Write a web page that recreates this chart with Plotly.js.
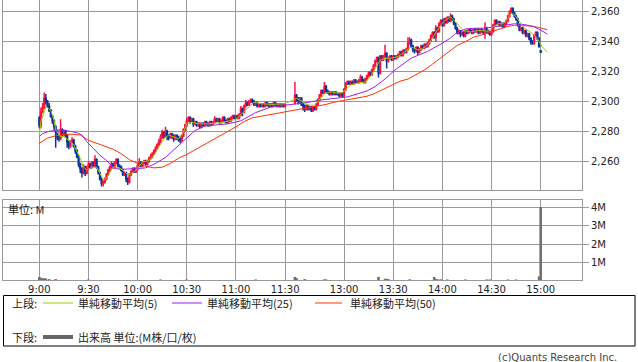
<!DOCTYPE html>
<html><head><meta charset="utf-8">
<script src="https://cdn.plot.ly/plotly-3.0.1.min.js"></script>
<style>html,body{margin:0;padding:0;background:#fff;}#chart{width:638px;height:362px;}</style>
</head><body><div id="chart"></div>
<script>
// ---- time axis (minute slots; afternoon session 12:30 starts at slot 156) ----
const amMinutes = 151;          // 9:00 .. 11:30
const pmStartSlot = 156;        // 12:30
const pmMinutes = 151;          // 12:30 .. 15:00
const tickSlots  = [0,30,60,90,120,150,186,216,246,276,306];
const tickLabels = ['9:00','9:30','10:00','10:30','11:00','11:30','13:00','13:30','14:00','14:30','15:00'];
const priceTicks = [2260,2280,2300,2320,2340,2360];
const volTicks = [1,2,3,4];
const volTickLabels = ['1M','2M','3M','4M'];

// ---- 1-minute candles ----
const openP = [
2289,2284,2293,2296,2302,2300,2297,2294,2290,2287,
2283,2280,2276,2275,2281,2278,2280,2277,2273,2270,
2273,2274,2270,2267,2263,2258,2255,2252,2256,2252,
2255,2258,2256,2259,2257,2261,2256,2252,2248,2245,
2246,2248,2251,2254,2256,2258,2256,2259,2261,2257,
2256,2254,2251,2252,2248,2246,2251,2253,2255,2253,
2255,2257,2259,2257,2259,2260,2258,2260,2262,2263,
2265,2267,2269,2271,2273,2276,2279,2277,2280,2277,
2276,2278,2277,2275,2277,2276,2275,2274,2277,2281,
2284,2287,2289,2287,2288,2285,2286,2284,2285,2283,
2285,2284,2286,2285,2284,2286,2285,2286,2288,2287,
2288,2286,2287,2289,2287,2286,2288,2287,2289,2290,
2289,2290,2289,2291,2295,2293,2297,2299,2298,2300,
2301,2300,2298,2299,2297,2298,2297,2298,2297,2299,
2298,2297,2298,2297,2299,2298,2297,2298,2297,2298,
2297,
2299,2304,2302,2300,2302,2298,2297,2295,2297,2295,
2296,2294,2296,2295,2298,2301,2304,2307,2306,2310,
2307,2306,2305,2306,2305,2306,2305,2305,2304,2305,
2304,2308,2312,2313,2312,2313,2312,2314,2313,2313,
2314,2316,2314,2313,2315,2317,2319,2318,2321,2324,
2327,2329,2319,2330,2328,2330,2332,2327,2329,2330,
2328,2330,2329,2330,2331,2333,2331,2334,2333,2335,
2339,2341,2337,2335,2334,2336,2333,2335,2337,2336,
2338,2337,2339,2341,2344,2346,2343,2349,2347,2352,
2354,2351,2355,2353,2356,2354,2357,2355,2352,2349,
2346,2347,2345,2346,2344,2347,2346,2348,2347,2346,
2348,2347,2348,2346,2348,2347,2346,2349,2347,2346,
2345,2347,2351,2354,2352,2353,2351,2352,2350,2352,
2354,2357,2360,2362,2359,2357,2355,2351,2348,2349,
2346,2347,2344,2345,2342,2340,2339,2344,2346,2342,
2334];
const highP = [
2290,2296,2299,2306,2305,2301,2299,2295,2291,2288,
2284,2281,2277,2288,2282,2281,2281,2278,2274,2274,
2276,2275,2271,2268,2264,2259,2256,2258,2257,2257,
2260,2259,2260,2260,2264,2262,2257,2253,2249,2247,
2249,2252,2255,2257,2260,2259,2260,2262,2262,2258,
2257,2255,2253,2253,2249,2252,2254,2256,2256,2256,
2259,2262,2260,2260,2261,2261,2261,2263,2265,2266,
2268,2270,2272,2275,2278,2281,2280,2283,2281,2278,
2279,2279,2278,2278,2278,2277,2276,2278,2282,2285,
2289,2290,2290,2289,2289,2287,2287,2286,2286,2286,
2286,2287,2287,2286,2287,2287,2287,2290,2289,2289,
2289,2288,2290,2290,2288,2289,2289,2290,2291,2291,
2291,2291,2292,2297,2296,2298,2301,2300,2301,2302,
2302,2301,2300,2300,2299,2299,2299,2299,2300,2300,
2299,2299,2299,2300,2300,2299,2299,2299,2299,2299,
2299,
2313,2305,2303,2303,2303,2299,2298,2298,2298,2297,
2297,2297,2297,2299,2302,2305,2308,2308,2313,2311,
2308,2307,2307,2307,2307,2307,2306,2306,2306,2306,
2309,2313,2314,2314,2314,2314,2315,2315,2314,2315,
2318,2317,2315,2316,2318,2320,2320,2322,2325,2328,
2330,2330,2331,2331,2331,2338,2333,2330,2331,2331,
2331,2331,2331,2332,2334,2334,2335,2335,2336,2343,
2343,2342,2338,2336,2337,2337,2336,2338,2338,2339,
2339,2340,2342,2345,2347,2347,2351,2350,2353,2355,
2355,2356,2356,2357,2357,2359,2358,2356,2353,2350,
2348,2348,2347,2347,2348,2348,2349,2349,2348,2349,
2349,2349,2349,2349,2349,2348,2353,2350,2348,2347,
2348,2352,2355,2355,2354,2354,2353,2353,2353,2355,
2358,2361,2363,2363,2360,2358,2356,2352,2350,2350,
2348,2348,2346,2346,2343,2341,2345,2347,2347,2343,
2334];
const lowP = [
2282,2282,2292,2295,2298,2296,2293,2289,2285,2281,
2269,2274,2273,2274,2276,2277,2276,2269,2268,2269,
2272,2269,2265,2262,2256,2252,2249,2251,2250,2251,
2254,2255,2255,2256,2256,2255,2251,2247,2243,2243,
2245,2247,2250,2253,2255,2255,2255,2258,2256,2255,
2253,2250,2250,2246,2244,2245,2250,2252,2252,2252,
2254,2256,2256,2256,2258,2257,2257,2259,2261,2262,
2264,2266,2268,2270,2272,2275,2275,2276,2274,2274,
2275,2275,2273,2274,2274,2273,2272,2273,2276,2280,
2283,2286,2285,2286,2283,2284,2283,2283,2282,2282,
2283,2283,2284,2283,2283,2284,2284,2285,2286,2286,
2285,2285,2286,2286,2285,2285,2286,2286,2288,2288,
2288,2288,2288,2290,2290,2292,2296,2297,2297,2299,
2299,2297,2297,2296,2296,2296,2296,2296,2296,2297,
2296,2296,2296,2296,2297,2296,2296,2296,2296,2296,
2296,
2298,2300,2298,2299,2297,2294,2293,2294,2294,2294,
2293,2293,2294,2294,2297,2300,2303,2305,2305,2306,
2305,2304,2304,2304,2304,2304,2304,2303,2303,2303,
2303,2307,2311,2311,2311,2311,2311,2312,2312,2312,
2313,2313,2312,2312,2314,2316,2317,2317,2320,2323,
2326,2316,2318,2327,2327,2329,2322,2326,2328,2327,
2327,2328,2328,2329,2330,2330,2330,2332,2332,2334,
2338,2336,2333,2332,2333,2331,2332,2334,2335,2335,
2336,2336,2338,2340,2343,2342,2340,2346,2346,2351,
2350,2350,2352,2352,2353,2353,2354,2351,2348,2345,
2345,2343,2344,2343,2343,2345,2345,2346,2345,2345,
2346,2346,2345,2345,2346,2345,2342,2346,2345,2344,
2344,2346,2350,2351,2351,2350,2350,2349,2349,2351,
2353,2356,2359,2358,2356,2354,2350,2347,2347,2345,
2345,2343,2343,2341,2338,2338,2338,2343,2341,2336,
2333];
const closeP = [
2284,2293,2296,2302,2300,2297,2294,2290,2287,2283,
2280,2276,2275,2281,2278,2280,2277,2273,2270,2273,
2274,2270,2267,2263,2258,2255,2252,2256,2252,2255,
2258,2256,2259,2257,2261,2256,2252,2248,2245,2246,
2248,2251,2254,2256,2258,2256,2259,2261,2257,2256,
2254,2251,2252,2248,2246,2251,2253,2255,2253,2255,
2257,2259,2257,2259,2260,2258,2260,2262,2263,2265,
2267,2269,2271,2273,2276,2279,2277,2280,2277,2276,
2278,2277,2275,2277,2276,2275,2274,2277,2281,2284,
2287,2289,2287,2288,2285,2286,2284,2285,2283,2285,
2284,2286,2285,2284,2286,2285,2286,2288,2287,2288,
2286,2287,2289,2287,2286,2288,2287,2289,2290,2289,
2290,2289,2291,2295,2293,2297,2299,2298,2300,2301,
2300,2298,2299,2297,2298,2297,2298,2297,2299,2298,
2297,2298,2297,2299,2298,2297,2298,2297,2298,2297,
2298,
2304,2302,2300,2302,2298,2297,2295,2297,2295,2296,
2294,2296,2295,2298,2301,2304,2307,2306,2310,2307,
2306,2305,2306,2305,2306,2305,2305,2304,2305,2304,
2308,2312,2313,2312,2313,2312,2314,2313,2313,2314,
2316,2314,2313,2315,2317,2319,2318,2321,2324,2327,
2329,2319,2330,2328,2330,2332,2327,2329,2330,2328,
2330,2329,2330,2331,2333,2331,2334,2333,2335,2339,
2341,2337,2335,2334,2336,2333,2335,2337,2336,2338,
2337,2339,2341,2344,2346,2343,2349,2347,2352,2354,
2351,2355,2353,2356,2354,2357,2355,2352,2349,2346,
2347,2345,2346,2344,2347,2346,2348,2347,2346,2348,
2347,2348,2346,2348,2347,2346,2349,2347,2346,2345,
2347,2351,2354,2352,2353,2351,2352,2350,2352,2354,
2357,2360,2362,2359,2357,2355,2351,2348,2349,2346,
2347,2344,2345,2342,2340,2339,2344,2346,2342,2337,
2333];

// ---- moving averages ----
const ma5Slot = [0,1,3,4,7,9,10,13,15,17,19,21,23,25,27,29,32,35,37,39,41,43,45,48,51,54,56,59,63,67,70,73,76,79,82,85,88,90,93,97,103,112,120,124,131,135,142,150,157,159,164,168,171,174,178,182,185,190,193,199,202,205,208,211,215,219,223,227,231,234,237,240,243,246,248,249,251,252,256,259,263,268,274,277,280,283,286,288,290,293,296,299,302,304,307,310];
const ma5Val = [2277.5,2286.5,2293,2296.5,2294,2287.5,2281,2276.5,2276.5,2275,2273,2271,2267,2262,2256,2254,2256,2256,2252,2247.5,2248.5,2252.5,2256,2256,2254,2251,2251.5,2254,2259.5,2260.5,2264,2269.5,2275,2277.5,2276,2275,2279.5,2285,2286,2285,2285,2286,2288,2292,2299.5,2298.5,2298,2298.5,2302,2301,2297.5,2297.5,2301,2305,2306.5,2305.5,2306,2311,2312,2313,2316.5,2322,2327.5,2329,2329,2330,2333.5,2336.5,2334.5,2335.5,2338,2342.5,2348,2352.5,2354.5,2355,2356.5,2355.5,2351,2347.5,2346.5,2347.5,2347,2350,2352,2352,2355.5,2359,2358,2353.5,2349,2347,2344.5,2342,2336.5,2333];
const ma25Slot = [0,2,6,13,19,23,26,29,33,37,41,45,49,56,59,65,71,77,83,89,95,101,109,115,123,132,142,150,162,172,182,188,200,205,211,217,227,237,246,251,254,260,266,272,278,284,290,296,302,308,310];
const ma25Val = [2276.5,2278.5,2280,2281,2280,2279,2277.5,2273,2268.5,2264,2260.5,2256,2254.5,2254.5,2255,2255.5,2258.5,2262.5,2268.5,2275,2280.5,2283.5,2284.5,2285,2287,2292.5,2296.5,2297.5,2299,2301,2302.5,2303,2307,2310,2315,2321,2329,2333.5,2339,2342.5,2345.5,2348.5,2349,2349,2350,2351,2352,2351.5,2350,2346.5,2345];
const ma50Slot = [0,5,10,15,20,25,30,35,40,45,50,55,60,65,70,75,80,85,90,95,100,105,110,115,120,125,130,135,140,145,150,156,160,165,170,175,180,185,190,195,200,205,210,215,220,225,230,235,240,245,250,255,260,265,270,275,280,285,290,295,300,305,310];
const ma50Val = [2272,2275.5,2277,2278,2278,2277.5,2274,2272,2270,2268,2265,2261,2258.5,2256.5,2255.5,2256,2258.5,2262,2264.5,2267.5,2270.5,2274,2277,2280,2283,2286.5,2289,2290,2291,2292,2293,2294,2294.5,2295.5,2297,2298,2299.5,2300.5,2301.5,2302.5,2303.5,2305.5,2308,2310.5,2313.5,2315,2318,2321,2325,2329,2333,2337.5,2340,2343,2344.5,2346.5,2348,2350,2351,2351,2350.5,2349.5,2348];

// ---- volume (millions) ----
const volSlot = [0,1,2,3,4,6,10,30,74,90,132,156,157,162,174,175,207,211,212,213,226,241,242,243,245,249,260,273,275,286,291,305,306];
const volM    = [0.17,0.12,0.08,0.1,0.08,0.05,0.05,0.03,0.03,0.03,0.03,0.17,0.1,0.05,0.04,0.03,0.17,0.07,0.06,0.05,0.04,0.17,0.05,0.04,0.04,0.03,0.03,0.03,0.03,0.03,0.03,0.2,4.05];

// build slot list for the candles
const slots = [];
for (let i = 0; i < amMinutes; i++) slots.push(i);
for (let i = 0; i < pmMinutes; i++) slots.push(pmStartSlot + i);

// ---- geometry helpers ----
const W = 638, H = 362, ML = 3, MR = 56, MT = 0, MB = 82;
const PW = W - ML - MR, PH = H - MT - MB;
const px = x => (x - ML) / PW;
const py = y => (H - MB - y) / PH;

const GRID = '#999999';
const tickFont = {family: 'DejaVu Sans', size: 10, color: '#222'};
const jpFont = {family: 'Noto Sans CJK JP', size: 11, color: '#222'};

const traces = [
  {type: 'candlestick', x: slots, open: openP, high: highP, low: lowP, close: closeP,
   xaxis: 'x', yaxis: 'y', whiskerwidth: 0, hoverinfo: 'skip',
   increasing: {line: {color: '#ff1040', width: 1.5}, fillcolor: '#ff1040'},
   decreasing: {line: {color: '#0a3797', width: 1.5}, fillcolor: '#0a3797'}},
  {type: 'scatter', mode: 'lines', x: ma50Slot, y: ma50Val, xaxis: 'x', yaxis: 'y',
   line: {color: '#ff3300', width: 1}, hoverinfo: 'skip'},
  {type: 'scatter', mode: 'lines', x: ma25Slot, y: ma25Val, xaxis: 'x', yaxis: 'y',
   line: {color: '#9d1ff0', width: 1}, hoverinfo: 'skip'},
  {type: 'scatter', mode: 'lines', x: ma5Slot, y: ma5Val, xaxis: 'x', yaxis: 'y',
   line: {color: '#99cc00', width: 1}, hoverinfo: 'skip'},
  {type: 'bar', x: volSlot, y: volM, xaxis: 'x2', yaxis: 'y2', width: 1.6,
   marker: {color: '#707070', line: {width: 0}}, hoverinfo: 'skip'}
];

const xRange = [-22.15, 331.2];
const layout = {
  width: W, height: H, margin: {l: ML, r: MR, t: MT, b: MB, pad: 0},
  paper_bgcolor: '#fff', plot_bgcolor: '#fff', showlegend: false,
  xaxis: {domain: [0, 1], range: xRange, anchor: 'y', tickvals: tickSlots, ticktext: tickLabels,
    showticklabels: false, ticks: '', showgrid: true, gridcolor: GRID, gridwidth: 1,
    showline: true, mirror: true, linecolor: GRID, linewidth: 1, zeroline: false,
    rangeslider: {visible: false}, fixedrange: true},
  yaxis: {domain: [py(190.3), 1], range: [2240.5, 2367.9], anchor: 'x', side: 'right',
    tickvals: priceTicks, tickformat: ',d', ticks: 'outside', ticklen: 6, tickcolor: GRID,
    showgrid: true, gridcolor: GRID, showline: true, mirror: true, linecolor: GRID,
    zeroline: false, tickfont: tickFont, fixedrange: true},
  xaxis2: {domain: [0, 1], range: xRange, anchor: 'y2', tickvals: tickSlots, ticktext: tickLabels,
    ticks: '', showgrid: true, gridcolor: GRID, showline: true, mirror: true, linecolor: GRID,
    zeroline: false, tickfont: tickFont, fixedrange: true},
  yaxis2: {domain: [0, py(200)], range: [0, 4.444], anchor: 'x2', side: 'right',
    tickvals: volTicks, ticktext: volTickLabels, ticks: 'outside', ticklen: 6, tickcolor: GRID,
    showgrid: true, gridcolor: GRID, showline: true, mirror: true, linecolor: GRID,
    zeroline: false, tickfont: tickFont, fixedrange: true},
  shapes: [
    {type: 'rect', xref: 'paper', yref: 'paper', x0: px(3.5), x1: px(635), y0: py(295.5), y1: py(346),
     line: {color: '#000', width: 1}, fillcolor: 'rgba(0,0,0,0)'},
    {type: 'line', xref: 'paper', yref: 'paper', x0: px(43), x1: px(73), y0: py(303), y1: py(303),
     line: {color: '#99cc00', width: 1}},
    {type: 'line', xref: 'paper', yref: 'paper', x0: px(172), x1: px(202), y0: py(303), y1: py(303),
     line: {color: '#9d1ff0', width: 1}},
    {type: 'line', xref: 'paper', yref: 'paper', x0: px(315), x1: px(342), y0: py(303), y1: py(303),
     line: {color: '#ff3300', width: 1}},
    {type: 'line', xref: 'paper', yref: 'paper', x0: px(43), x1: px(73), y0: py(337), y1: py(337),
     line: {color: '#666', width: 4}}
  ],
  annotations: [
    {xref: 'paper', yref: 'paper', x: px(6), y: py(209), xanchor: 'left', yanchor: 'middle',
     text: '単位: M', showarrow: false, font: jpFont},
    {xref: 'paper', yref: 'paper', x: px(10), y: py(303), xanchor: 'left', yanchor: 'middle',
     text: '上段:', showarrow: false, font: jpFont},
    {xref: 'paper', yref: 'paper', x: px(76), y: py(303), xanchor: 'left', yanchor: 'middle',
     text: '単純移動平均(5)', showarrow: false, font: jpFont},
    {xref: 'paper', yref: 'paper', x: px(205), y: py(303), xanchor: 'left', yanchor: 'middle',
     text: '単純移動平均(25)', showarrow: false, font: jpFont},
    {xref: 'paper', yref: 'paper', x: px(348), y: py(303), xanchor: 'left', yanchor: 'middle',
     text: '単純移動平均(50)', showarrow: false, font: jpFont},
    {xref: 'paper', yref: 'paper', x: px(10), y: py(337), xanchor: 'left', yanchor: 'middle',
     text: '下段:', showarrow: false, font: jpFont},
    {xref: 'paper', yref: 'paper', x: px(76), y: py(337), xanchor: 'left', yanchor: 'middle',
     text: '出来高 単位:(M株/口/枚)', showarrow: false, font: jpFont},
    {xref: 'paper', yref: 'paper', x: px(619), y: py(357), xanchor: 'right', yanchor: 'middle',
     text: '(c)Quants Research Inc.', showarrow: false,
     font: {family: 'DejaVu Sans', size: 10, color: '#444'}}
  ]
};

Plotly.newPlot('chart', traces, layout, {staticPlot: true, displayModeBar: false});
</script>
</body></html>
